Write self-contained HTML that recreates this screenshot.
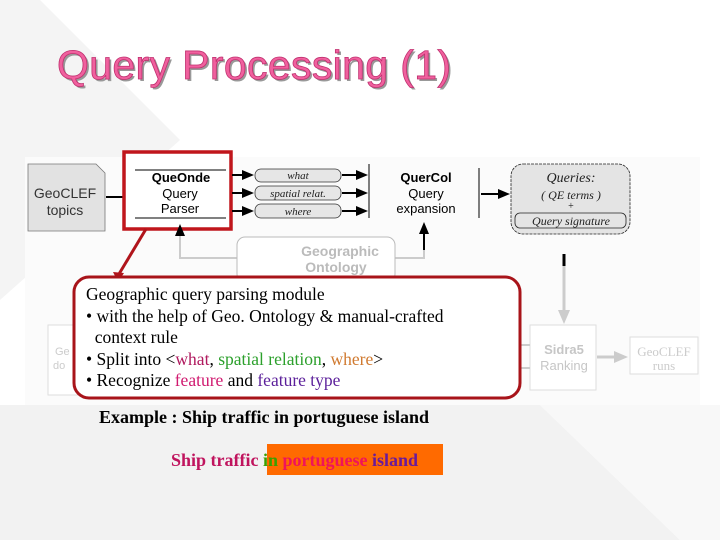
<!DOCTYPE html>
<html><head><meta charset="utf-8"><style>
html,body{margin:0;padding:0;width:720px;height:540px;overflow:hidden;background:#fff}
svg{position:absolute;left:0;top:0}
.t{position:absolute;font-family:"Liberation Serif",serif;white-space:nowrap}
</style></head><body>
<svg width="720" height="540" viewBox="0 0 720 540">
<polygon points="0,0 40,0 180,140 0,300" fill="#f4f4f4"/>
<polygon points="0,405 540,405 680,540 0,540" fill="#f2f2f2"/>
<polygon points="540,405 720,405 720,540 680,540" fill="#f8f8f8"/>
<rect x="25" y="157" width="675" height="248" fill="#fbfbfb"/>
<text x="59" y="81" font-family="Liberation Sans" font-size="41" fill="#999" textLength="394">Query Processing (1)</text>
<text x="57" y="79" font-family="Liberation Sans" font-size="41" fill="#f0609e" stroke="#c0306f" stroke-width="0.8" textLength="394">Query Processing (1)</text>
<!-- GeoCLEF topics -->
<path d="M28,164 H96 L105,173 V231 H28 Z" fill="#e2e2e2" stroke="#777" stroke-width="0.8"/>
<text x="65" y="198" font-family="Liberation Sans" font-size="14" fill="#333" text-anchor="middle">GeoCLEF</text>
<text x="65" y="215" font-family="Liberation Sans" font-size="14" fill="#333" text-anchor="middle">topics</text>
<line x1="106" y1="197" x2="126" y2="197" stroke="#000" stroke-width="2"/>
<polygon points="124,192 134,197 124,202"/>
<!-- QueOnde -->
<rect x="124" y="152" width="107" height="77" fill="#fff" stroke="#c0161c" stroke-width="3.5"/>
<line x1="135" y1="170" x2="226" y2="170" stroke="#000"/>
<line x1="135" y1="218" x2="226" y2="218" stroke="#000"/>
<text x="181" y="182" font-family="Liberation Sans" font-size="13" font-weight="bold" text-anchor="middle">QueOnde</text>
<text x="180" y="198" font-family="Liberation Sans" font-size="13" text-anchor="middle">Query</text>
<text x="180" y="213" font-family="Liberation Sans" font-size="13" text-anchor="middle">Parser</text>
<g stroke="#000" stroke-width="2">
<line x1="232" y1="175" x2="244" y2="175"/><line x1="232" y1="193" x2="244" y2="193"/><line x1="232" y1="211" x2="244" y2="211"/>
<line x1="342" y1="175" x2="358" y2="175"/><line x1="342" y1="193" x2="358" y2="193"/><line x1="342" y1="211" x2="358" y2="211"/>
</g>
<g fill="#000">
<polygon points="242,170 254,175 242,180"/><polygon points="242,188 254,193 242,198"/><polygon points="242,206 254,211 242,216"/>
<polygon points="356,170 368,175 356,180"/><polygon points="356,188 368,193 356,198"/><polygon points="356,206 368,211 356,216"/>
</g>
<g fill="#e6e6e6" stroke="#333" stroke-width="0.8">
<rect x="255" y="169" width="86" height="13" rx="6"/><rect x="255" y="186" width="86" height="14" rx="6"/><rect x="255" y="204" width="86" height="14" rx="6"/>
</g>
<g font-family="Liberation Serif" font-style="italic" font-size="11" text-anchor="middle" fill="#222">
<text x="298" y="179">what</text><text x="298" y="197">spatial relat.</text><text x="298" y="215">where</text>
</g>
<line x1="369" y1="164" x2="369" y2="218" stroke="#000"/>
<text x="426" y="182" font-family="Liberation Sans" font-size="13" font-weight="bold" text-anchor="middle">QuerCol</text>
<text x="426" y="198" font-family="Liberation Sans" font-size="13" text-anchor="middle">Query</text>
<text x="426" y="213" font-family="Liberation Sans" font-size="13" text-anchor="middle">expansion</text>
<line x1="479" y1="168" x2="479" y2="218" stroke="#000"/>
<line x1="481" y1="194" x2="500" y2="194" stroke="#000" stroke-width="2"/>
<polygon points="498,189 510,194 498,199"/>
<!-- Queries -->
<rect x="511" y="164" width="119" height="70" rx="12" fill="#e4e4e4" stroke="#222" stroke-width="0.8" stroke-dasharray="3,1"/>
<g font-family="Liberation Serif" font-style="italic" text-anchor="middle" fill="#222">
<text x="571" y="182" font-size="14">Queries:</text>
<text x="571" y="199" font-size="12">(  QE terms  )</text>
<text x="571" y="209" font-size="10" font-style="normal">+</text>
<rect x="515" y="213" width="111" height="15" rx="5" fill="none" stroke="#222" stroke-width="0.8"/>
<text x="571" y="225" font-size="12">Query signature</text>
</g>
<line x1="564" y1="254" x2="564" y2="266" stroke="#000" stroke-width="3"/>
<line x1="564" y1="266" x2="564" y2="314" stroke="#ccc" stroke-width="3"/>
<polygon points="558,310 564,324 570,310" fill="#ccc"/>
<!-- Ontology -->
<path d="M180,228 V258 H237" fill="none" stroke="#ccc" stroke-width="2"/>
<polygon points="175,236 180,224 185,236"/>
<path d="M395,258 H424 V232" fill="none" stroke="#ccc" stroke-width="2"/>
<line x1="424" y1="250" x2="424" y2="232" stroke="#000" stroke-width="2"/>
<polygon points="419,234 424,222 429,234"/>
<rect x="237" y="237" width="158" height="45" rx="8" fill="#fff" stroke="#bbb"/>
<text x="340" y="256" font-family="Liberation Sans" font-size="14" font-weight="bold" fill="#bbb" text-anchor="middle">Geographic</text>
<text x="336" y="272" font-family="Liberation Sans" font-size="14" font-weight="bold" fill="#bbb" text-anchor="middle">Ontology</text>
<!-- faded lower -->
<rect x="48" y="325" width="40" height="70" fill="#fff" stroke="#ddd"/>
<text x="55" y="355" font-family="Liberation Sans" font-size="11" fill="#ccc">Ge</text>
<text x="53" y="369" font-family="Liberation Sans" font-size="11" fill="#ccc">do</text>
<rect x="530" y="325" width="66" height="65" fill="#fff" stroke="#ddd"/>
<text x="564" y="354" font-family="Liberation Sans" font-size="13" font-weight="bold" fill="#c6c6c6" text-anchor="middle">Sidra5</text>
<text x="564" y="370" font-family="Liberation Sans" font-size="13" fill="#c6c6c6" text-anchor="middle">Ranking</text>
<line x1="520" y1="345" x2="530" y2="345" stroke="#ccc" stroke-width="2"/>
<line x1="520" y1="368" x2="530" y2="368" stroke="#ccc" stroke-width="2"/>
<line x1="597" y1="357" x2="616" y2="357" stroke="#ccc" stroke-width="3"/>
<polygon points="614,351 628,357 614,363" fill="#ccc"/>
<rect x="630" y="337" width="68" height="37" fill="#fff" stroke="#ddd"/>
<text x="664" y="356" font-family="Liberation Serif" font-size="13" fill="#ccc" text-anchor="middle">GeoCLEF</text>
<text x="664" y="370" font-family="Liberation Serif" font-size="13" fill="#ccc" text-anchor="middle">runs</text>
<!-- callout -->
<line x1="146" y1="229" x2="119" y2="274" stroke="#b0141b" stroke-width="3"/>
<polygon points="113,272 118,282 124,273" fill="#b0141b"/>
<rect x="74" y="277" width="446" height="121" rx="15" fill="#fff" stroke="#a8141a" stroke-width="3"/>
<rect x="267" y="444" width="176" height="31" fill="#ff6a00"/>
</svg>
<div class="t" style="left:86px;top:284px;font-size:17.5px;line-height:21.6px">Geographic query parsing module<br>• with the help of Geo. Ontology &amp; manual-crafted<br>&nbsp;&nbsp;context rule<br>• Split into &lt;<span style="color:#b0195e">what</span>, <span style="color:#2ca02c">spatial relation</span>, <span style="color:#d07a30">where</span>&gt;<br>• Recognize <span style="color:#d01a70">feature</span> and <span style="color:#5b1f9a">feature type</span></div>
<div class="t" style="left:99px;top:407px;font-size:18px;font-weight:bold">Example : Ship traffic in portuguese island</div>
<div class="t" style="left:171px;top:450px;font-size:18px;font-weight:bold"><span style="color:#c0145e">Ship traffic </span><span style="color:#3aa000">in</span> <span style="color:#f0145a">portuguese</span> <span style="color:#6a1a9a">island</span></div>
</body></html>
